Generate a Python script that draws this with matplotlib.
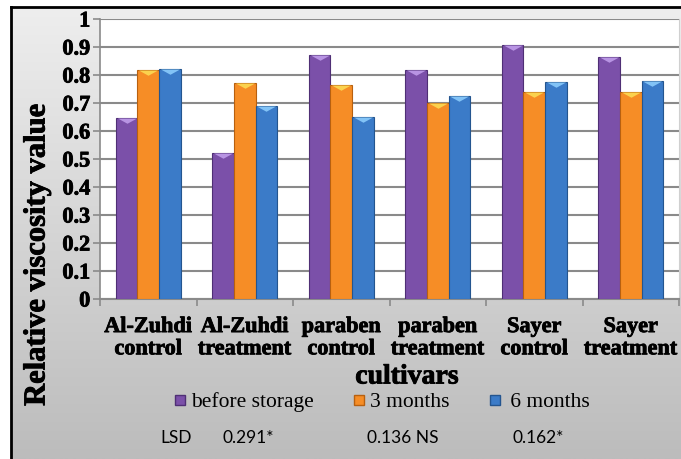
import numpy as np
import matplotlib.pyplot as plt
import matplotlib.patheffects as pe
from matplotlib.path import Path
from matplotlib.lines import Line2D
from matplotlib.colors import LinearSegmentedColormap

# Dados
cultivares = ['Al-Zuhdi\ncontrol', 'Al-Zuhdi\ntreatment', 'paraben\ncontrol',
              'paraben\ntreatment', 'Sayer\ncontrol', 'Sayer\ntreatment']
antes = [0.645, 0.52, 0.871, 0.818, 0.907, 0.864]
tres_meses = [0.818, 0.771, 0.764, 0.70, 0.739, 0.739]
seis_meses = [0.821, 0.689, 0.65, 0.725, 0.775, 0.779]
series = ['before storage', '3 months', ' 6 months']
rotulos_y = ['0', '0.1', '0.2', '0.3', '0.4', '0.5', '0.6', '0.7', '0.8', '0.9', '1']
lsd_rotulos = ['LSD', '0.291*', '0.136 NS', '0.162*']

cores = ['#7b50a9', '#f68d26', '#3b7bc8']
bordas = ['#4f2f75', '#b8600f', '#24558f']
topos = ['#b894e3', '#fbd24e', '#82c3f6']

plt.rcParams['font.family'] = 'Liberation Serif'
plt.rcParams['font.weight'] = 'bold'
negrito = [pe.withStroke(linewidth=0.6, foreground='black')]

W, H = 681, 459
fig = plt.figure(figsize=(W / 100, H / 100), dpi=100)
fig.patch.set_facecolor('white')

# fundo com gradiente e moldura preta
bg = fig.add_axes([11 / W, 0, 1 - 11 / W, 1 - 7 / H], zorder=0)
grad = np.linspace(0, 1, 256).reshape(-1, 1)
bg.imshow(grad, aspect='auto', cmap=LinearSegmentedColormap.from_list('g', ['#eeeeee', '#bcbcbc']),
          extent=[0, 1, 0, 1], origin='upper')
bg.set_axis_off()
fig.add_artist(Line2D([11 / W, 11 / W], [0, 1 - 7 / H], color='black', lw=2,
                      transform=fig.transFigure))
fig.add_artist(Line2D([11 / W, 1], [1 - 7 / H, 1 - 7 / H], color='black', lw=2,
                      transform=fig.transFigure))

ax = fig.add_axes([100 / W, 1 - 299 / H, 579 / W, 280 / H], zorder=2)
ax.set_facecolor('white')

x = np.arange(len(cultivares))
larg = 0.223
tri = Path([(-1, 0), (1, 0), (0, -0.55), (-1, 0)],
           [Path.MOVETO, Path.LINETO, Path.LINETO, Path.CLOSEPOLY])
for i, vals in enumerate([antes, tres_meses, seis_meses]):
    xs = x + (i - 1) * larg
    ax.bar(xs, vals, width=larg, color=cores[i], edgecolor=bordas[i], linewidth=0.8, zorder=3)
    ax.scatter(xs, vals, marker=tri, s=190, color=topos[i], linewidths=0, zorder=4)

ax.set_ylim(0, 1)
ax.set_xlim(-0.5, len(cultivares) - 0.5)
ax.set_yticks(np.arange(0, 1.01, 0.1))
ax.set_yticklabels(rotulos_y, fontsize=16, fontweight='bold', family='Liberation Serif',
                   path_effects=negrito)
ax.yaxis.grid(True, color='#8a8a8a', linewidth=1.5, zorder=1)
ax.set_axisbelow(True)

ax.set_xticks(x)
ax.set_xticklabels(cultivares, fontsize=16, fontweight='bold', family='Liberation Serif',
                   linespacing=1.15, path_effects=negrito)
ax.set_xticks(np.arange(-0.5, len(cultivares)), minor=True)
ax.tick_params(axis='x', which='major', length=0, pad=13)
ax.tick_params(axis='x', which='minor', length=5, color='#8a8a8a', width=1.2)
ax.tick_params(axis='y', length=5, color='#8a8a8a', width=1.2, pad=2)

ax.spines['top'].set_visible(False)
ax.spines['right'].set_color('#d0d0d0')
ax.spines['left'].set_color('#8a8a8a')
ax.spines['left'].set_linewidth(1.2)
ax.spines['bottom'].set_color('#8a8a8a')
ax.spines['bottom'].set_linewidth(1.5)

fig.text(37 / W, 1 - 255 / H, 'Relative viscosity value', rotation=90, ha='center', va='center',
         family='Liberation Serif', fontweight='bold', fontsize=22, path_effects=negrito)
fig.text(407 / W, 1 - 377 / H, 'cultivars', ha='center', va='center',
         family='Liberation Serif', fontweight='bold', fontsize=20, path_effects=negrito)

handles = [Line2D([], [], marker='s', linestyle='', markersize=7, markerfacecolor=cores[i],
                  markeredgecolor=bordas[i]) for i in range(3)]
fig.legend(handles, series, loc='center', bbox_to_anchor=(381 / W, 1 - 402 / H), ncol=3,
           frameon=False, handletextpad=0.1, columnspacing=1.7, handlelength=0.8,
           prop={'family': 'Liberation Serif', 'size': 15.5, 'weight': 'normal'})

for txt, xc in zip(lsd_rotulos, [176, 248, 403, 538]):
    fig.text(xc / W, 1 - 438 / H, txt, ha='center', va='center', family='Lato',
             fontweight='normal', fontsize=12.5)

fig.savefig('out.png', dpi=100)
